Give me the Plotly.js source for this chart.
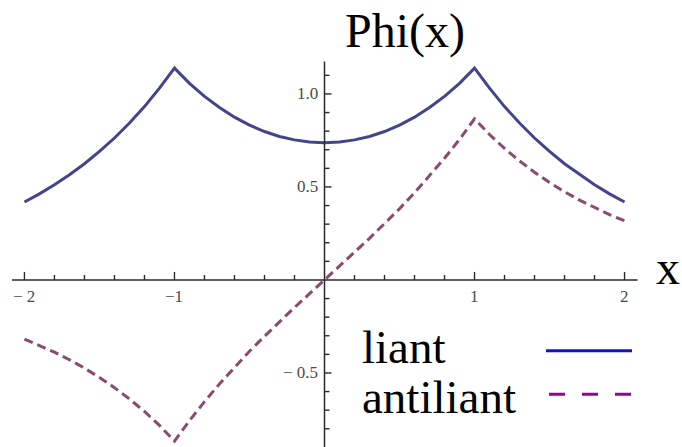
<!DOCTYPE html>
<html>
<head>
<meta charset="utf-8">
<script src="https://cdn.plot.ly/plotly-3.0.1.min.js"></script>
<style>
  html, body { margin: 0; padding: 0; background: #ffffff; }
  #chart { width: 682px; height: 447px; }
</style>
</head>
<body>
<div id="chart"></div>
<script>
// Sample positions along x
const xVals = [-2.0, -1.9, -1.8, -1.7, -1.6, -1.5, -1.4, -1.3, -1.2, -1.1, -1.0,
               -0.9, -0.8, -0.7, -0.6, -0.5, -0.4, -0.3, -0.2, -0.1, 0.0,
                0.1,  0.2,  0.3,  0.4,  0.5,  0.6,  0.7,  0.8,  0.9, 1.0,
                1.1,  1.2,  1.3,  1.4,  1.5,  1.6,  1.7,  1.8,  1.9, 2.0];

// Bound (symmetric) state
const liant = [0.419, 0.463, 0.512, 0.566, 0.625, 0.691, 0.763, 0.844, 0.932, 1.031, 1.139,
               1.057, 0.987, 0.927, 0.875, 0.832, 0.798, 0.771, 0.753, 0.742, 0.738,
               0.742, 0.753, 0.771, 0.798, 0.832, 0.875, 0.927, 0.987, 1.057, 1.139,
               1.031, 0.932, 0.844, 0.763, 0.691, 0.625, 0.566, 0.512, 0.463, 0.419];

// Antibonding (antisymmetric) state
const antiliant = [-0.318, -0.351, -0.388, -0.429, -0.474, -0.524, -0.579, -0.640, -0.707, -0.782, -0.866,
                   -0.756, -0.654, -0.559, -0.469, -0.383, -0.303, -0.224, -0.148, -0.074, 0.000,
                    0.074,  0.148,  0.224,  0.303,  0.383,  0.469,  0.559,  0.654,  0.756, 0.866,
                    0.782,  0.707,  0.640,  0.579,  0.524,  0.474,  0.429,  0.388,  0.351, 0.318];

// Axis ticks
const xMajorTicks = [-2, -1, 1, 2];
const xMajorLabels = ['\u2212 2', '\u22121', '1', '2'];
const xMinorTicks = [-1.8, -1.6, -1.4, -1.2, -0.8, -0.6, -0.4, -0.2, 0.2, 0.4, 0.6, 0.8, 1.2, 1.4, 1.6, 1.8];
const yMajorTicks = [-0.5, 0.5, 1.0];
const yMajorLabels = ['\u2212 0.5', '0.5', '1.0'];
const yMinorTicks = [-0.8, -0.7, -0.6, -0.4, -0.3, -0.2, -0.1, 0.1, 0.2, 0.3, 0.4, 0.6, 0.7, 0.8, 0.9, 1.1];

const W = 682, H = 447;
const xRange = [-2.163, 2.383];
const yRange = [-0.898, 1.505];
const pxPerX = W / (xRange[1] - xRange[0]);
const pxPerY = H / (yRange[1] - yRange[0]);

const axisColor = '#2a2a2a';
const serif = 'Liberation Serif, Times New Roman, serif';

const traces = [
  {
    x: xVals, y: liant, type: 'scatter', mode: 'lines', name: 'liant',
    line: { color: '#44448c', width: 3 }, hoverinfo: 'skip'
  },
  {
    x: xVals, y: antiliant, type: 'scatter', mode: 'lines', name: 'antiliant',
    line: { color: '#8c4a6c', width: 3, dash: '9px,5px' }, hoverinfo: 'skip'
  }
];

const shapes = [];
// axis lines crossing at the origin
shapes.push({ type: 'line', xref: 'x', yref: 'y', x0: -2.083, x1: 2.087, y0: 0, y1: 0,
              line: { color: axisColor, width: 1.5 } });
shapes.push({ type: 'line', xref: 'x', yref: 'y', x0: 0, x1: 0, y0: -0.95, y1: 1.174,
              line: { color: axisColor, width: 1.5 } });

function xTick(v, lenPx) {
  shapes.push({ type: 'line', xref: 'x', yref: 'y', x0: v, x1: v, y0: 0, y1: lenPx / pxPerY,
                line: { color: axisColor, width: 1.4 } });
}
function yTick(v, lenPx) {
  shapes.push({ type: 'line', xref: 'x', yref: 'y', x0: 0, x1: lenPx / pxPerX, y0: v, y1: v,
                line: { color: axisColor, width: 1.4 } });
}
xMajorTicks.forEach(v => xTick(v, 8));
xMinorTicks.forEach(v => xTick(v, 5));
yMajorTicks.forEach(v => yTick(v, 7));
yMinorTicks.forEach(v => yTick(v, 5));

// legend samples
shapes.push({ type: 'line', xref: 'paper', yref: 'paper',
              x0: 546 / W, x1: 632 / W, y0: 1 - 350.7 / H, y1: 1 - 350.7 / H,
              line: { color: '#1010d8', width: 3 } });
shapes.push({ type: 'line', xref: 'paper', yref: 'paper',
              x0: 549 / W, x1: 632 / W, y0: 1 - 394.3 / H, y1: 1 - 394.3 / H,
              line: { color: '#990099', width: 3, dash: '16px,17px' } });

const annotations = [];
const tickFont = { family: serif, size: 17, color: '#4a4a4a' };
xMajorTicks.forEach((v, i) => {
  annotations.push({ xref: 'x', yref: 'y', x: v, y: -17 / pxPerY, text: xMajorLabels[i],
                     showarrow: false, xanchor: 'center', yanchor: 'middle', font: tickFont });
});
yMajorTicks.forEach((v, i) => {
  annotations.push({ xref: 'x', yref: 'y', x: -5 / pxPerX, y: v, text: yMajorLabels[i],
                     showarrow: false, xanchor: 'right', yanchor: 'middle', font: tickFont });
});

const bigFont = { family: serif, size: 48, color: '#000000' };
const legFont = { family: serif, size: 47, color: '#000000' };
annotations.push({ xref: 'paper', yref: 'paper', x: 405 / W, y: 1 - 31 / H, text: 'Phi(x)',
                   showarrow: false, xanchor: 'center', yanchor: 'middle', font: bigFont });
annotations.push({ xref: 'paper', yref: 'paper', x: 668 / W, y: 1 - 267 / H, text: 'x',
                   showarrow: false, xanchor: 'center', yanchor: 'middle', font: bigFont });
annotations.push({ xref: 'paper', yref: 'paper', x: 360 / W, y: 1 - 347 / H, text: 'liant',
                   showarrow: false, xanchor: 'left', yanchor: 'middle', font: legFont });
annotations.push({ xref: 'paper', yref: 'paper', x: 360 / W, y: 1 - 397 / H, text: 'antiliant',
                   showarrow: false, xanchor: 'left', yanchor: 'middle', font: legFont });

const layout = {
  width: W, height: H,
  margin: { l: 0, r: 0, t: 0, b: 0, pad: 0 },
  paper_bgcolor: '#ffffff', plot_bgcolor: '#ffffff',
  showlegend: false,
  xaxis: { range: xRange, showgrid: false, zeroline: false, showline: false,
           showticklabels: false, ticks: '', fixedrange: true },
  yaxis: { range: yRange, showgrid: false, zeroline: false, showline: false,
           showticklabels: false, ticks: '', fixedrange: true },
  shapes: shapes,
  annotations: annotations
};

Plotly.newPlot('chart', traces, layout, { displayModeBar: false, staticPlot: true });
</script>
</body>
</html>
